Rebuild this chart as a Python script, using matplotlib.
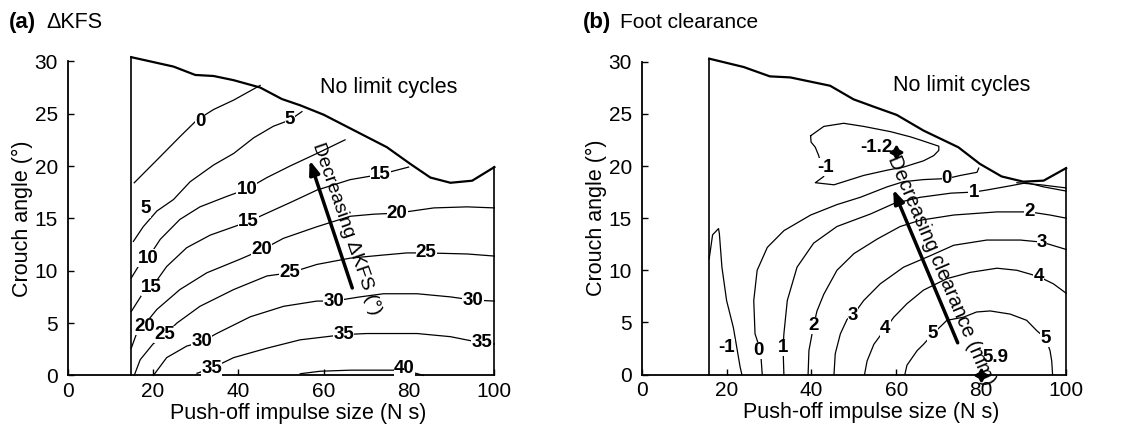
import matplotlib
matplotlib.use("Agg")
import matplotlib.pyplot as plt

plt.rcParams['font.family'] = ['Liberation Sans', 'DejaVu Sans']

# ---- panel (a): delta KFS ----
a_edge_x = [14.9, 19.3, 24.8, 29.9, 34.2, 38.9, 45.1, 50.2, 54.5, 60.0, 66.2, 74.8, 80.3, 85.0, 89.7, 94.8, 100]
a_edge_y = [30.4, 30.0, 29.5, 28.7, 28.6, 28.2, 27.5, 26.4, 25.8, 24.9, 23.6, 21.8, 20.2, 18.9, 18.4, 18.6, 19.9]

a0_x = [15.6, 21.7, 26.3, 30.3, 34.2, 38.9, 45.1]
a0_y = [18.4, 20.9, 22.8, 24.4, 25.4, 26.3, 27.7]
a5_x = [15.4, 17.7, 20.9, 24.8, 28.7, 34.2, 38.9, 43.6, 48.2, 52.1, 54.9]
a5_y = [12.8, 14.2, 15.7, 16.8, 18.5, 20.1, 21.2, 22.7, 23.8, 24.4, 25.2]
a10_x = [14.9, 17.0, 18.8, 21.7, 26.3, 31.0, 37.3, 42.0, 46.7, 52.1, 58.4, 65.0]
a10_y = [9.3, 10.7, 11.2, 13.0, 14.9, 16.1, 17.1, 17.8, 18.9, 20.0, 21.2, 22.5]
a15_x = [14.9, 17.7, 19.7, 23.2, 27.9, 33.4, 42.4, 46.7, 52.1, 58.4, 66.2, 73.3, 79.9]
a15_y = [6.1, 7.9, 8.4, 10.4, 12.2, 13.4, 14.7, 15.5, 16.5, 17.7, 18.7, 19.2, 19.9]
a20_x = [14.9, 16.6, 18.1, 20.9, 26.3, 32.6, 40.4, 45.5, 50.6, 58.4, 66.2, 71.7, 77.2, 85.8, 93.6, 100]
a20_y = [2.6, 4.5, 4.9, 6.3, 8.2, 9.8, 11.1, 12.0, 13.1, 14.2, 15.2, 15.4, 15.5, 16.0, 16.1, 16.0]
a25_x = [15.6, 17.0, 20.0, 22.8, 25.6, 31.0, 38.9, 46.7, 52.1, 58.4, 66.2, 74.0, 79.5, 84.0, 93.6, 100]
a25_y = [0.0, 1.5, 3.0, 3.9, 5.0, 6.6, 8.2, 9.5, 9.8, 10.6, 11.2, 11.5, 11.7, 11.7, 11.6, 11.4]
a30_x = [20.1, 23.2, 27.9, 31.4, 34.9, 42.8, 50.6, 58.4, 62.3, 68.5, 74.0, 81.9, 89.7, 95.0, 100]
a30_y = [0.0, 1.7, 2.8, 3.2, 4.0, 5.6, 6.6, 7.1, 7.1, 7.5, 7.8, 7.8, 7.5, 7.2, 7.1]
a35_x = [30.3, 33.8, 38.9, 46.7, 54.5, 60.7, 64.7, 70.1, 81.9, 89.7, 97.1, 100]
a35_y = [0.2, 0.7, 1.7, 2.6, 3.4, 3.7, 3.9, 4.0, 4.0, 3.7, 3.1, 3.0]
a40_x = [54.5, 59.2, 66.2, 74.0, 78.9, 83.4]
a40_y = [0.16, 0.4, 0.5, 0.5, 0.5, 0.0]

a_lab_x = [31.0, 18.3, 52.1, 18.8, 42.0, 19.7, 42.4, 73.3, 18.1, 45.5, 77.2, 22.8, 52.1, 84.0, 31.4, 62.3, 95.0, 33.8, 64.7, 97.1, 78.9]
a_lab_y = [24.3, 15.9, 24.4, 11.2, 17.8, 8.4, 14.7, 19.2, 4.7, 12.0, 15.5, 3.9, 9.8, 11.7, 3.2, 7.1, 7.2, 0.7, 3.9, 3.1, 0.7]
a_lab_t = ['0', '5', '5', '10', '10', '15', '15', '15', '20', '20', '20', '25', '25', '25', '30', '30', '30', '35', '35', '35', '40']

# ---- panel (b): foot clearance ----
b_edge_x = [15.9, 24.0, 30.2, 35.0, 39.7, 44.4, 49.9, 54.6, 60.1, 66.4, 74.6, 79.7, 84.8, 89.9, 94.7, 100]
b_edge_y = [30.3, 29.5, 28.6, 28.5, 28.1, 27.7, 26.4, 25.7, 24.9, 23.4, 21.8, 20.2, 19.0, 18.5, 18.6, 19.8]

bm1_x = [15.9, 16.7, 18.1, 18.3, 18.9, 20.0, 21.6, 23.2, 23.6]
bm1_y = [11.1, 13.4, 14.0, 13.5, 10.3, 7.1, 4.5, 0.7, 0.0]
bisl_x = [39.8, 42.9, 47.6, 52.3, 58.6, 63.3, 65.6, 70.0, 70.0, 68.8, 66.4, 61.7, 57.8, 52.3, 45.3, 40.9, 42.9, 42.5, 41.7, 40.9, 39.9, 39.8]
bisl_y = [22.9, 23.8, 24.1, 23.8, 23.3, 22.8, 22.5, 21.9, 21.5, 21.0, 20.5, 19.9, 19.6, 19.1, 18.2, 18.4, 19.0, 19.8, 21.0, 21.8, 22.3, 22.9]
b0_x = [28.4, 28.0, 26.7, 26.4, 27.2, 29.6, 33.5, 39.8, 46.0, 51.5, 57.8, 61.7, 66.4, 71.9, 75.1, 79.0, 79.4]
b0_y = [0.0, 2.3, 3.9, 7.1, 10.0, 12.2, 13.8, 15.3, 16.3, 17.0, 18.0, 18.5, 18.7, 18.8, 19.1, 19.4, 19.8]
b0r_x = [88.4, 94.0, 100]
b0r_y = [18.4, 18.2, 17.9]
b1_x = [33.5, 33.3, 33.5, 34.3, 36.6, 40.5, 46.0, 53.9, 59.4, 65.6, 72.9, 78.2, 81.3, 86.8, 90.7, 94.7, 100]
b1_y = [0.0, 2.6, 3.9, 7.1, 10.3, 12.6, 14.2, 15.4, 16.4, 17.0, 17.4, 17.5, 17.7, 18.1, 18.4, 18.0, 17.6]
b2_x = [39.2, 39.4, 40.5, 41.3, 42.9, 46.0, 50.0, 55.5, 60.9, 65.6, 73.5, 83.7, 91.4, 96.2, 100]
b2_y = [0.0, 2.3, 4.7, 6.1, 7.7, 10.0, 11.6, 13.0, 14.2, 14.8, 15.3, 15.6, 15.6, 15.3, 15.0]
b3_x = [45.3, 45.6, 46.8, 48.4, 49.8, 52.3, 56.2, 61.7, 68.0, 73.5, 81.3, 89.2, 94.3, 100]
b3_y = [0.0, 2.0, 3.9, 5.3, 5.7, 7.1, 8.7, 10.3, 11.4, 12.4, 12.9, 12.9, 12.7, 12.0]
b4_x = [52.5, 53.1, 54.7, 57.4, 59.4, 62.5, 66.4, 71.9, 77.4, 83.7, 88.4, 93.5, 97.0, 100]
b4_y = [0.0, 1.3, 2.9, 4.4, 5.5, 6.8, 8.1, 9.2, 9.8, 10.2, 10.0, 9.4, 8.7, 7.8]
b5_x = [62.0, 62.5, 64.9, 66.4, 68.6, 71.9, 75.8, 78.9, 82.1, 86.8, 90.7, 93.1, 95.1, 96.2, 96.6, 96.8]
b5_y = [0.0, 0.9, 2.3, 2.9, 3.9, 5.2, 5.5, 6.0, 6.1, 5.8, 5.2, 4.2, 3.5, 2.3, 1.3, 0.0]

b_lab_x = [43.3, 19.9, 27.6, 71.9, 33.3, 78.2, 40.5, 91.4, 49.8, 94.3, 57.4, 93.5, 68.6, 95.1]
b_lab_y = [19.9, 2.6, 2.3, 18.8, 2.6, 17.5, 4.7, 15.6, 5.7, 12.7, 4.4, 9.4, 3.9, 3.5]
b_lab_t = ['-1', '-1', '0', '0', '1', '1', '2', '2', '3', '3', '4', '4', '5', '5']

b_min = (60.0, 21.3)
b_max = (79.9, 0.0)

fig = plt.figure(figsize=(11.41, 4.32), dpi=100)
ax_a = fig.add_axes([0.0593, 0.131, 0.374, 0.727])
ax_b = fig.add_axes([0.5624, 0.133, 0.372, 0.724])


def setup(ax):
    ax.set_xlim(0, 100)
    ax.set_ylim(0, 30)
    ax.spines['top'].set_visible(False)
    ax.spines['right'].set_visible(False)
    ax.spines['left'].set_linewidth(1.3)
    ax.spines['bottom'].set_linewidth(1.3)
    ax.set_xticks([0, 20, 40, 60, 80, 100])
    ax.set_yticks([0, 5, 10, 15, 20, 25, 30])
    ax.tick_params(direction='in', length=4, width=1, labelsize=15)
    ax.tick_params(axis='x', pad=5)
    ax.tick_params(axis='y', pad=7)
    ax.set_xlabel('Push-off impulse size (N s)', fontsize=15.5, labelpad=1)
    ax.xaxis.label.set_x(0.54)
    ax.set_ylabel('Crouch angle (\u00b0)', fontsize=15.5, labelpad=1)


def region(ax, ex, ey):
    ax.plot(ex, ey, color='black', lw=1.6, clip_on=False)
    ax.plot([ex[0], ex[0]], [0, ey[0]], color='black', lw=1.2, clip_on=False)
    ax.plot([ex[-1], ex[-1]], [0, ey[-1]], color='black', lw=1.2, clip_on=False)


def labels(ax, xs, ys, ts):
    for x, y, t in zip(xs, ys, ts):
        ax.text(x, y, t, fontsize=13.5, fontweight='bold', ha='center', va='center',
                bbox=dict(facecolor='white', edgecolor='none', pad=0.2))


# panel a
setup(ax_a)
region(ax_a, a_edge_x, a_edge_y)
for xs, ys in [(a0_x, a0_y), (a5_x, a5_y), (a10_x, a10_y), (a15_x, a15_y), (a20_x, a20_y),
               (a25_x, a25_y), (a30_x, a30_y), (a35_x, a35_y), (a40_x, a40_y)]:
    ax_a.plot(xs, ys, color='black', lw=0.9, clip_on=False)
labels(ax_a, a_lab_x, a_lab_y, a_lab_t)
ax_a.text(75.2, 27.5, 'No limit cycles', fontsize=15.5, ha='center', va='center')
ax_a.annotate('', xy=(56.5, 20.8), xytext=(66.9, 8.1),
              arrowprops=dict(arrowstyle='-|>,head_length=0.8,head_width=0.3', color='black', lw=2.5))
ax_a.text(65.4, 14.0, 'Decreasing \u0394KFS (\u00b0)', fontsize=14, rotation=-71, ha='center', va='center')
fig.text(0.008, 0.947, '(a)', fontsize=16, fontweight='bold', va='center')
fig.text(0.041, 0.947, '\u0394KFS', fontsize=15.5, va='center')

# panel b
setup(ax_b)
region(ax_b, b_edge_x, b_edge_y)
for xs, ys in [(bm1_x, bm1_y), (bisl_x, bisl_y), (b0_x, b0_y), (b0r_x, b0r_y), (b1_x, b1_y),
               (b2_x, b2_y), (b3_x, b3_y), (b4_x, b4_y), (b5_x, b5_y)]:
    ax_b.plot(xs, ys, color='black', lw=0.9, clip_on=False)
labels(ax_b, b_lab_x, b_lab_y, b_lab_t)
ax_b.annotate('', xy=(59.0, 18.0), xytext=(74.7, 2.8),
              arrowprops=dict(arrowstyle='-|>,head_length=0.8,head_width=0.3', color='black', lw=2.5))
ax_b.text(70.6, 10.0, 'Decreasing clearance (mm)', fontsize=14.5, rotation=-67, ha='center', va='center')
ax_b.plot(*b_min, marker=(4, 1, 0), ms=9, color='black', mew=1.5, clip_on=False)
ax_b.plot(*b_max, marker=(4, 1, 0), ms=9, color='black', mew=1.5, clip_on=False)
ax_b.text(55.3, 21.8, '-1.2', fontsize=13.5, fontweight='bold', ha='center', va='center')
ax_b.text(83.3, 1.6, '5.9', fontsize=13.5, fontweight='bold', ha='center', va='center')
ax_b.text(75.5, 27.7, 'No limit cycles', fontsize=15.5, ha='center', va='center')
fig.text(0.511, 0.947, '(b)', fontsize=16, fontweight='bold', va='center')
fig.text(0.543, 0.947, 'Foot clearance', fontsize=15, va='center')

fig.savefig('out.png', dpi=100)
